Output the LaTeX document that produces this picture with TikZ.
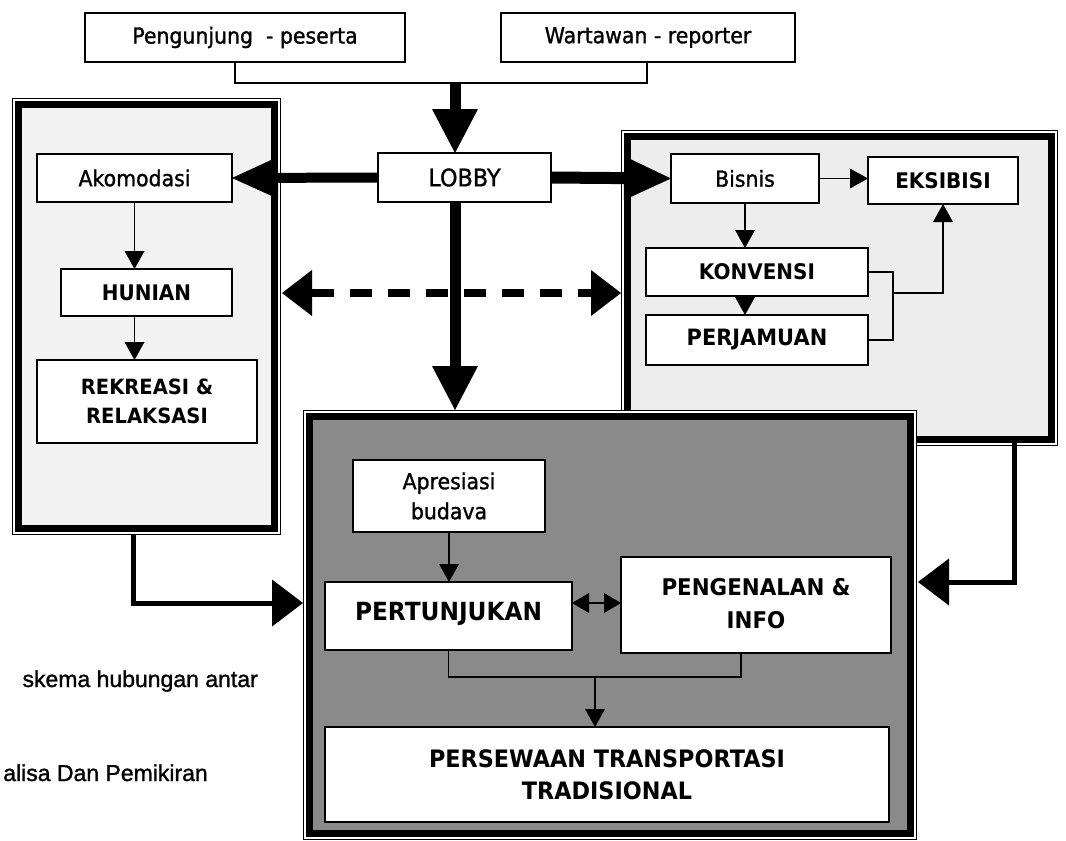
\documentclass[tikz,border=0pt]{standalone}
\usepackage{fontspec}
\setmainfont{DejaVu Sans}
\newfontfamily\regfont[FakeStretch=0.93,FakeBold=1.2]{DejaVu Sans}
\newfontfamily\bldfont[FakeStretch=0.93]{DejaVu Sans}
\newfontfamily\capfont[FakeBold=1.2]{Liberation Sans}
\usetikzlibrary{arrows.meta}
\tikzset{
  box/.style={draw, line width=1.8pt, fill=white, align=center, inner sep=0pt, outer sep=0pt},
  reg/.style={font=\regfont\fontsize{22}{30}\selectfont},
  bld/.style={font=\bldfont\bfseries\fontsize{21.5}{30}\selectfont},
  bigbld/.style={font=\bldfont\bfseries\fontsize{24}{32}\selectfont},
  panel/.style={draw, line width=7pt, inner sep=0pt, outer sep=0pt},
  thinframe/.style={line width=1.3pt},
  bigarrow/.style={line width=11pt, -{Triangle[length=44pt,width=46pt,line width=0pt]}},
  medarrow/.style={line width=5pt, line join=miter, -{Triangle[length=31pt,width=47pt,line width=0pt]}},
  dasharrow/.style={line width=8pt, dash pattern=on 22pt off 16pt,
     {Triangle[length=30pt,width=46pt,line width=0pt]}-{Triangle[length=30pt,width=46pt,line width=0pt]}},
  thinarrow/.style={line width=1.8pt, -{Triangle[length=18pt,width=20pt,line width=0pt]}},
  thinarrows/.style={line width=1.8pt, {Triangle[length=17pt,width=20pt,line width=0pt]}-{Triangle[length=17pt,width=20pt,line width=0pt]}},
  link/.style={line width=1.8pt, line join=miter},
  captext/.style={font=\capfont\fontsize{23}{26}\selectfont, inner sep=0pt},
}
\begin{document}
\begin{tikzpicture}[x=1pt, y=-1pt]
\useasboundingbox (0,0) rectangle (1066,841);

% panels
\node[panel, fill=black!5, minimum width=256pt, minimum height=424pt] (lp) at (146.5,316.5) {};
\draw[thinframe] ([xshift=-5.9pt,yshift=5.9pt]lp.north west) rectangle ([xshift=5.9pt,yshift=-5.9pt]lp.south east);
\node[panel, fill=black!7, minimum width=424pt, minimum height=303pt] (rp) at (839.5,288) {};
\draw[thinframe] ([xshift=-5.9pt,yshift=5.9pt]rp.north west) rectangle ([xshift=5.9pt,yshift=-5.9pt]rp.south east);
\fill[white] (303,410) rectangle (917,841);
\node[panel, fill=black!46, minimum width=601pt, minimum height=417pt] (bp) at (610,625) {};
\draw[thinframe] ([xshift=-5.9pt,yshift=5.9pt]bp.north west) rectangle ([xshift=5.9pt,yshift=-5.9pt]bp.south east);

% top boxes
\node[box, reg, minimum width=320pt, minimum height=49pt] (peng) at (245,37.5) {Pengunjung\ \ - peserta};
\node[box, reg, minimum width=294pt, minimum height=49pt] (wart) at (648,37.5) {Wartawan - reporter};
\node[box, font=\regfont\fontsize{24}{30}\selectfont, minimum width=173pt, minimum height=49pt] (lobby) at (464.5,177.5) {LOBBY};

% left panel boxes
\node[box, reg, minimum width=195pt, minimum height=48pt] (akom) at (134.5,178) {Akomodasi};
\node[box, bld, minimum width=171pt, minimum height=47pt] (hunian) at (146.5,292.5) {HUNIAN};
\node[box, font=\bldfont\bfseries\fontsize{21}{29}\selectfont, minimum width=220pt, minimum height=83pt] (rekr) at (147,401.5) {REKREASI \&\\RELAKSASI};

% right panel boxes
\node[box, reg, minimum width=148pt, minimum height=49pt] (bisnis) at (745,178.5) {Bisnis};
\node[box, bld, minimum width=150pt, minimum height=47pt] (eksi) at (943,180.5) {EKSIBISI};
\node[box, bld, minimum width=222pt, minimum height=48pt] (konv) at (757,272) {KONVENSI};
\node[box, font=\bldfont\bfseries\fontsize{22.5}{30}\selectfont, minimum width=222pt, minimum height=50pt] (perj) at (757,340) {PERJAMUAN};

% bottom panel boxes
\node[box, reg, minimum width=192pt, minimum height=72pt] (apres) at (449,496) {Apresiasi\\budava};
\node[box, font=\bldfont\bfseries\fontsize{25}{32}\selectfont, minimum width=247pt, minimum height=68pt] (pert) at (448.5,616) {\raisebox{9pt}{PERTUNJUKAN}};
\node[box, font=\bldfont\bfseries\fontsize{23}{33}\selectfont, minimum width=270pt, minimum height=96pt] (peng2) at (756,605) {\raisebox{5pt}{\begin{tabular}{@{}c@{}}PENGENALAN \&\\INFO\end{tabular}}};
\node[box, bigbld, minimum width=564pt, minimum height=95pt] (pers) at (607,774.5) {PERSEWAAN TRANSPORTASI\\TRADISIONAL};

% caption fragments
\node[captext, anchor=base east] (cap1) at (258,687) {skema hubungan antar};
\node[captext, anchor=base east] (cap2) at (208,781) {alisa Dan Pemikiran};

% coordinates
\coordinate (jn) at (455,83);
\coordinate (bptop) at (455,410);
\coordinate (lpout) at (133,535);
\coordinate (bpleft) at (303,603);
\coordinate (rpout) at (1014,443);
\coordinate (bpright) at (918,582);
\coordinate (dl) at (282,293);
\coordinate (dr) at (621,293);
\coordinate (kb) at (893,293);

% top connector
\draw[link] (peng.south -| 235,0) -- (235,83) -- (647,83) -- (wart.south -| 647,0);
\draw[bigarrow] (jn) -- (jn |- lobby.north);
\draw[bigarrow] (jn |- lobby.south) -- (bptop);
\draw[line width=10pt, -{Triangle[length=46pt,width=42pt,line width=0pt]}] (lobby.west) -- (akom.east);
\draw[line width=12pt, -{Triangle[length=47pt,width=44pt,line width=0pt]}] (lobby.east) -- (bisnis.west);
\draw[dasharrow] (dl) -- (dr);

% left panel arrows
\draw[thinarrow] (akom.south) -- (akom.south |- hunian.north);
\draw[thinarrow] (hunian.south -| akom.south) -- (rekr.north -| akom.south);

% right panel arrows
\draw[thinarrow] (bisnis.east) -- (eksi.west |- bisnis.east);
\draw[thinarrow] (bisnis.south) -- (bisnis.south |- konv.north);
\draw[thinarrow] (konv.south -| bisnis.south) -- (perj.north -| bisnis.south);
\draw[link] (konv.east) -| (kb |- perj.east) -- (perj.east);
\draw[thinarrow] (kb) -| (eksi.south);

% bottom panel arrows
\draw[thinarrow] (apres.south) -- (apres.south |- pert.north);
\draw[thinarrows] (pert.east |- 0,603) -- (peng2.west |- 0,603);
\draw[link] (pert.south) -- (pert.south |- 0,677) -- (741,677) -- (peng2.south -| 741,0);
\draw[thinarrow] (595,677) -- (pers.north -| 595,0);

% panel to panel
\draw[medarrow] (lpout) |- (bpleft);
\draw[medarrow] (rpout) |- (bpright);
\end{tikzpicture}
\end{document}
